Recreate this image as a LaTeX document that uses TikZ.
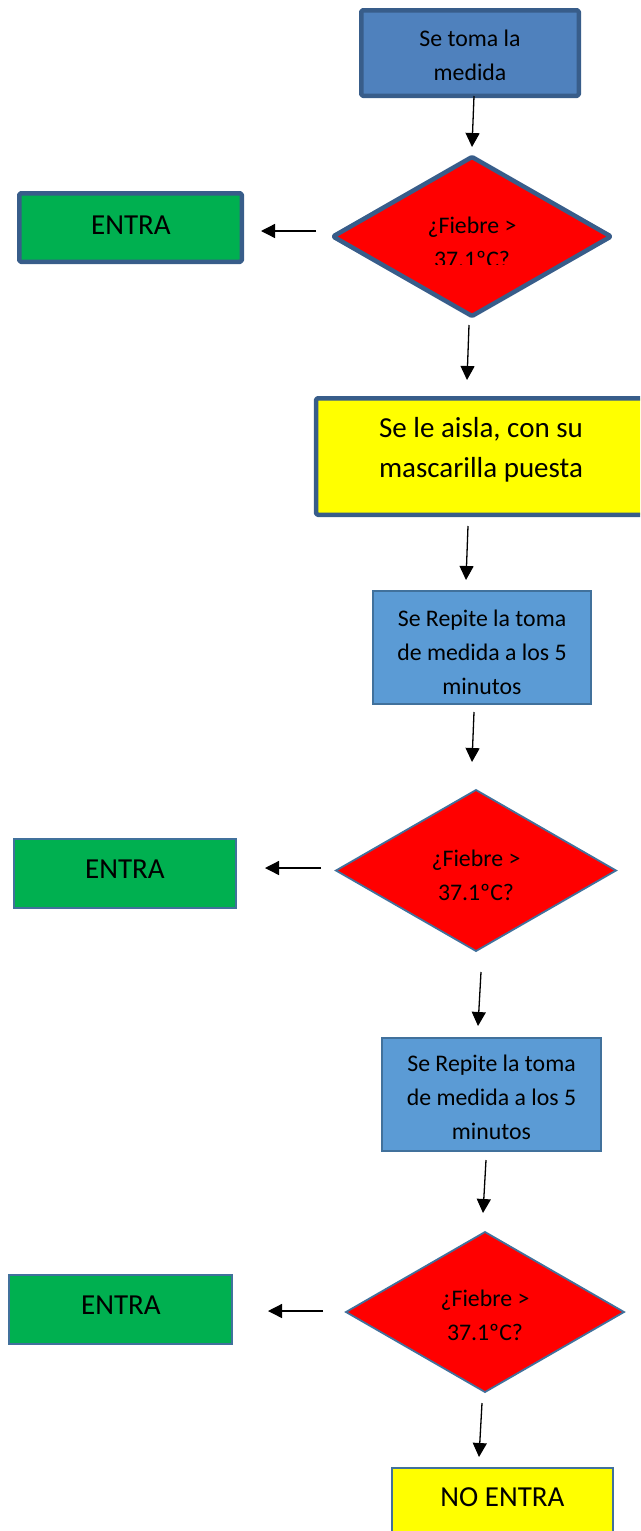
\documentclass[tikz,border=0pt]{standalone}
\usepackage{fontspec}
\setmainfont{Carlito}
\usetikzlibrary{shapes.geometric,arrows.meta}
\definecolor{bdark}{HTML}{385D8A}
\definecolor{bmid}{HTML}{41719C}
\definecolor{fillA}{HTML}{4F81BD}
\definecolor{fillB}{HTML}{5B9BD5}
\definecolor{fgreen}{HTML}{00B050}
\definecolor{fred}{HTML}{FF0000}
\definecolor{fyellow}{HTML}{FFFF00}
\begin{document}
\begin{tikzpicture}[x=1pt,y=-1pt,
  thickbox/.style={draw=bdark, line width=4.5pt, rounded corners=1.5pt, line join=round, inner sep=0pt, outer sep=0pt},
  thinbox/.style={draw=bmid, line width=1.8pt, inner sep=0pt, outer sep=0pt},
  dia/.style={diamond, inner sep=0pt, outer sep=0pt, aspect=1.75, fill=fred},
  txt/.style={font=\fontsize{23.8}{34}\selectfont, align=center, inner sep=0pt},
  bigtxt/.style={font=\fontsize{29}{40}\selectfont, align=center, inner sep=0pt},
  arr/.style={line width=1.3pt, -{Triangle[length=14pt,width=14pt]}}
]
\useasboundingbox (0,0) rectangle (640,1531);
\clip (0,0) rectangle (640,1531);

% shapes
\node[thickbox, fill=fillA, minimum width=217.5pt, minimum height=85.5pt] (b1) at (470,53) {};
\node[dia, thickbox, minimum width=278pt, minimum height=159pt] (d1) at (472,236.5) {};
\node[thickbox, fill=fgreen, minimum width=222.5pt, minimum height=68.5pt] (e1) at (130.5,227.5) {};
\node[thickbox, fill=fyellow, minimum width=343.75pt, minimum height=116.5pt] (y1) at (488,456.5) {};
\node[thinbox, fill=fillB, minimum width=218pt, minimum height=113pt] (r1) at (482,647.5) {};
\node[dia, thinbox, minimum width=280pt, minimum height=161pt] (d2) at (476,870.5) {};
\node[thinbox, fill=fgreen, minimum width=222pt, minimum height=69pt] (e2) at (125,873.5) {};
\node[thinbox, fill=fillB, minimum width=219pt, minimum height=113pt] (r2) at (491.5,1094.5) {};
\node[dia, thinbox, minimum width=278pt, minimum height=160pt] (d3) at (485,1312) {};
\node[thinbox, fill=fgreen, minimum width=223pt, minimum height=69pt] (e3) at (120.5,1309.5) {};
\node[thinbox, fill=fyellow, minimum width=221pt, minimum height=92pt] (n1) at (502.5,1514) {};

% texts
\node[txt] (tb1) at (470,55) {Se toma la\\medida};
\begin{scope}
\clip (300,150) rectangle (640,264.5);
\node[txt] (td1) at (472,242.5) {¿Fiebre >\\37.1ºC?};
\end{scope}
\node[bigtxt] (te1) at (131,225) {ENTRA};
\node[bigtxt] (ty1) at (481,450) {Se le aisla, con su\\mascarilla puesta};
\node[txt] (tr1) at (482,652) {Se Repite la toma\\de medida a los 5\\minutos};
\node[txt] (td2) at (476,875) {¿Fiebre >\\37.1ºC?};
\node[bigtxt] (te2) at (125,869) {ENTRA};
\node[txt] (tr2) at (491.5,1097.5) {Se Repite la toma\\de medida a los 5\\minutos};
\node[txt] (td3) at (485,1315.5) {¿Fiebre >\\37.1ºC?};
\node[bigtxt] (te3) at (121,1305) {ENTRA};
\node[bigtxt] (tn1) at (502.5,1497) {NO ENTRA};

% connector ends
\coordinate (a1s) at (474,96);  \coordinate (a1e) at (472,147);
\coordinate (a2s) at (469,325); \coordinate (a2e) at (467,380);
\coordinate (a3s) at (468,526); \coordinate (a3e) at (466,580);
\coordinate (a4s) at (474,712); \coordinate (a4e) at (472,762);
\coordinate (a5s) at (481,972); \coordinate (a5e) at (478,1026);
\coordinate (a6s) at (486,1160); \coordinate (a6e) at (483,1213);
\coordinate (a7s) at (482,1403); \coordinate (a7e) at (479,1457);
\coordinate (l1s) at (316,231); \coordinate (l1e) at (261,231);
\coordinate (l2s) at (321,868); \coordinate (l2e) at (265,868);
\coordinate (l3s) at (323,1311); \coordinate (l3e) at (268,1311);

\draw[arr] (a1s) -- (a1e);
\draw[arr] (a2s) -- (a2e);
\draw[arr] (a3s) -- (a3e);
\draw[arr] (a4s) -- (a4e);
\draw[arr] (a5s) -- (a5e);
\draw[arr] (a6s) -- (a6e);
\draw[arr] (a7s) -- (a7e);
\draw[arr] (l1s) -- (l1e);
\draw[arr] (l2s) -- (l2e);
\draw[arr] (l3s) -- (l3e);
\end{tikzpicture}
\end{document}
